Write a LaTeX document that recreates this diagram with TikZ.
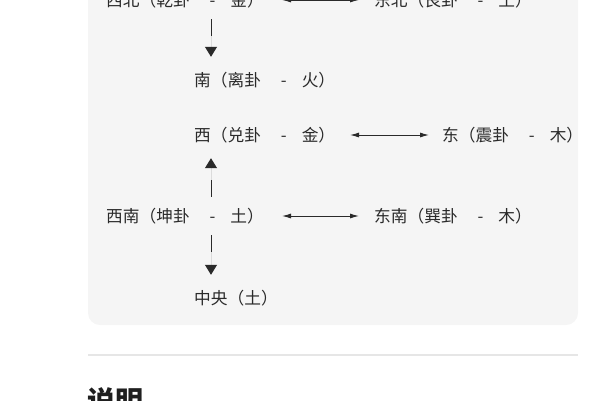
\documentclass[tikz,border=0pt]{standalone}
\usepackage{fontspec}
\setmainfont{Noto Sans CJK SC}
\usetikzlibrary{arrows.meta,calc}
\definecolor{boxbg}{HTML}{F5F5F5}
\definecolor{txt}{HTML}{2A2A2A}
\definecolor{rulec}{HTML}{E6E6E6}
\newcommand\guaLabel[3]{#1（#2\hspace{20pt}-\hspace{15pt}#3）}
\begin{document}
\begin{tikzpicture}[x=1pt,y=-1pt,
  lbl/.style={inner sep=0pt, anchor=west, text height=14.3pt, text depth=1.7pt,
    font=\fontsize{16.7}{20}\selectfont, text=txt},
  harrow/.style={draw=txt, line width=1pt,
    {Latex[length=9pt,width=5pt]}-{Latex[length=9pt,width=5pt]}},
  vconn/.style={draw=txt, fill=txt, line width=1pt, dash pattern=on 17pt off 40pt,
    -{Triangle[length=10pt,width=12pt]}},
]
\useasboundingbox (0,0) rectangle (600,400);
\clip (0,0) rectangle (600,400);
\fill[boxbg, rounded corners=12pt] (88,-30) rectangle (578,325);

\node[lbl] (nw) at (106,0)   {\guaLabel{西北}{乾卦}{金}};
\node[lbl] (ne) at (374,0)   {\guaLabel{东北}{艮卦}{土}};
\node[lbl] (s)  at (194,80)  {\guaLabel{南}{离卦}{火}};
\node[lbl] (w)  at (194,135) {\guaLabel{西}{兑卦}{金}};
\node[lbl] (e)  at (442,135) {\guaLabel{东}{震卦}{木}};
\node[lbl] (sw) at (106,216) {\guaLabel{西南}{坤卦}{土}};
\node[lbl] (se) at (374,216) {\guaLabel{东南}{巽卦}{木}};
\node[lbl] (c)  at (194,298) {中央（土）};

\draw[harrow] (282,0 |- nw.east) -- (359,0 |- ne.west);
\draw[harrow] (350,0 |- w.east) -- (429,0 |- e.west);
\draw[harrow] (282,0 |- sw.east) -- (359,0 |- se.west);

\draw[vconn] ($(211,0 |- nw.south)+(0,11)$) -- ($(211,0 |- s.north)+(0,-15)$);
\draw[vconn] ($(211,0 |- sw.north)+(0,-11)$) -- ($(211,0 |- w.south)+(0,15)$);
\draw[vconn] ($(211,0 |- sw.south)+(0,11)$) -- ($(211,0 |- c.north)+(0,-15)$);

\draw[rulec, line width=1.5pt] (88,355) -- (578,355);
\node[inner sep=0pt, anchor=base west, font=\fontsize{28}{32}\selectfont\bfseries,
  text=black!88] (title) at (87,411) {说明};
\end{tikzpicture}
\end{document}
